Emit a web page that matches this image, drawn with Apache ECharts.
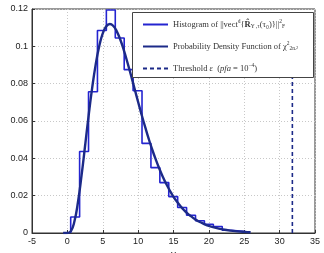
<!DOCTYPE html>
<html>
<head>
<meta charset="utf-8">
<script src="https://cdn.jsdelivr.net/npm/echarts@6/dist/echarts.min.js"></script>
<style>
  html, body { margin: 0; padding: 0; background: #fff; }
  #chart { width: 324px; height: 253px; }
</style>
</head>
<body>
<div id="chart"></div>
<script>
// histogram bins (left edges + last right edge) and heights
const binEdges = [0.47, 1.73, 2.99, 4.25, 5.51, 6.77, 8.03, 9.29, 10.55, 11.81,
  13.07, 14.33, 15.59, 16.85, 18.11, 19.37, 20.63, 21.89, 23.15, 24.41, 25.67];
const histHeights = [0.0086, 0.0437, 0.0757, 0.1085, 0.1195, 0.1045, 0.0875, 0.0762,
  0.048, 0.035, 0.027, 0.0195, 0.0137, 0.0095, 0.0066, 0.0047, 0.0035, 0.0015, 0.001, 0.0005];

// chi-square pdf curve
const pdfX = [-0.6, 0, 0.5, 1, 1.5, 2, 2.5, 3, 3.5, 4, 4.5, 5, 5.5, 6, 6.5, 7, 7.5, 8, 8.5, 9,
  9.5, 10, 10.5, 11, 11.5, 12, 12.5, 13, 13.5, 14, 14.5, 15, 15.5, 16, 16.5, 17, 17.5, 18,
  18.5, 19, 19.5, 20, 21, 22, 23, 24, 25, 25.9];
const pdfY = [0, 0, 0.001, 0.0063, 0.0166, 0.0307, 0.0466, 0.0628, 0.0776, 0.0902, 0.1,
  0.1069, 0.1108, 0.112, 0.1109, 0.1079, 0.1034, 0.0977, 0.0912, 0.0844, 0.0773, 0.0702,
  0.0633, 0.0567, 0.0504, 0.0446, 0.0393, 0.0344, 0.03, 0.0261, 0.0226, 0.0194, 0.0167,
  0.0143, 0.0122, 0.0104, 0.0089, 0.0075, 0.0063, 0.0054, 0.0045, 0.0038, 0.0027, 0.0019,
  0.0013, 0.0009, 0.0006, 0.0004];

const threshold = 31.8;
const xTicks = { min: -5, max: 35, step: 5 };
const yTicks = { min: 0, max: 0.12, step: 0.02 };

const names = ["hist", "pdf", "thr"];
const legendText = {
  hist: "Histogram of ||vect{sup|d}{{bf|R̂}{sub|Y ,τ}(τ₀)}||{sup|2}{sub|F}",
  pdf: "Probability Density Function of χ{sup|2}{sub|2nᵣ²}",
  thr: "Threshold {it|ε}  ({it|pfa} = 10{sup|−4})"
};

// stairs outline for the histogram
const histPts = [[binEdges[0], 0]];
histHeights.forEach((h, i) => histPts.push([binEdges[i], h]));
histPts.push([binEdges[binEdges.length - 1], 0]);

const pdfPts = pdfX.map((x, i) => [x, pdfY[i]]);

const chart = echarts.init(document.getElementById("chart"));

const axisCommon = {
  axisLine: { show: true, onZero: false, lineStyle: { color: "#333", width: 1 } },
  axisTick: { show: true, inside: true, length: 3, lineStyle: { color: "#333" } },
  axisLabel: { color: "#222", fontSize: 9, fontFamily: "Liberation Sans", margin: 4 },
  splitLine: { show: true, lineStyle: { color: "#c8c8c8", type: [1, 2], width: 1 } }
};

chart.setOption({
  animation: false,
  backgroundColor: "#fff",
  grid: {
    left: 32, right: 9, top: 9, bottom: 20,
    outerBoundsMode: "none", containLabel: false,
    show: true, borderColor: "#333", borderWidth: 1
  },
  xAxis: Object.assign({
    type: "value", min: xTicks.min, max: xTicks.max, interval: xTicks.step,
    name: "X", nameLocation: "middle", nameGap: 15,
    nameTextStyle: { color: "#222", fontSize: 9, fontFamily: "Liberation Sans" }
  }, axisCommon),
  yAxis: Object.assign({
    type: "value", min: yTicks.min, max: yTicks.max, interval: yTicks.step,
    name: "P(X)", nameLocation: "middle", nameGap: 25,
    nameTextStyle: { color: "#222", fontSize: 9, fontFamily: "Liberation Sans" }
  }, axisCommon),
  graphic: [{
    type: "rect", left: 132, top: 12, z: 10,
    shape: { width: 181, height: 65 },
    style: { fill: "#fff", stroke: "#444", lineWidth: 1 }
  }],
  legend: {
    data: names,
    orient: "vertical",
    left: 137, top: 14, z: 20,
    itemWidth: 25, itemHeight: 10, itemGap: 11,
    itemStyle: { opacity: 0 },
    formatter: (n) => legendText[n],
    textStyle: {
      fontFamily: "Liberation Serif", fontSize: 8.5, color: "#333", lineHeight: 11,
      rich: {
        sup: { fontSize: 5.5, verticalAlign: "top", fontFamily: "Liberation Serif", color: "#333", lineHeight: 11 },
        sub: { fontSize: 5.5, verticalAlign: "bottom", fontFamily: "Liberation Serif", color: "#333", lineHeight: 11 },
        bf: { fontSize: 8.5, fontWeight: "bold", fontFamily: "Liberation Serif", color: "#333" },
        it: { fontSize: 8.5, fontStyle: "italic", fontFamily: "Liberation Serif", color: "#333" }
      }
    }
  },
  series: [
    {
      name: "hist", type: "line", step: "end", data: histPts,
      symbol: "none", z: 2,
      lineStyle: { color: "#2424d0", width: 1.6 }, itemStyle: { color: "#2424d0" }
    },
    {
      name: "pdf", type: "line", smooth: true, data: pdfPts,
      symbol: "none", z: 3,
      lineStyle: { color: "#1c2a88", width: 2.4 }, itemStyle: { color: "#1c2a88" }
    },
    {
      name: "thr", type: "line", data: [[threshold, yTicks.min], [threshold, yTicks.max]],
      symbol: "none", z: 2,
      lineStyle: { color: "#1c2a88", width: 1.6, type: [4, 3] }, itemStyle: { color: "#1c2a88" }
    }
  ]
});
</script>
</body>
</html>
